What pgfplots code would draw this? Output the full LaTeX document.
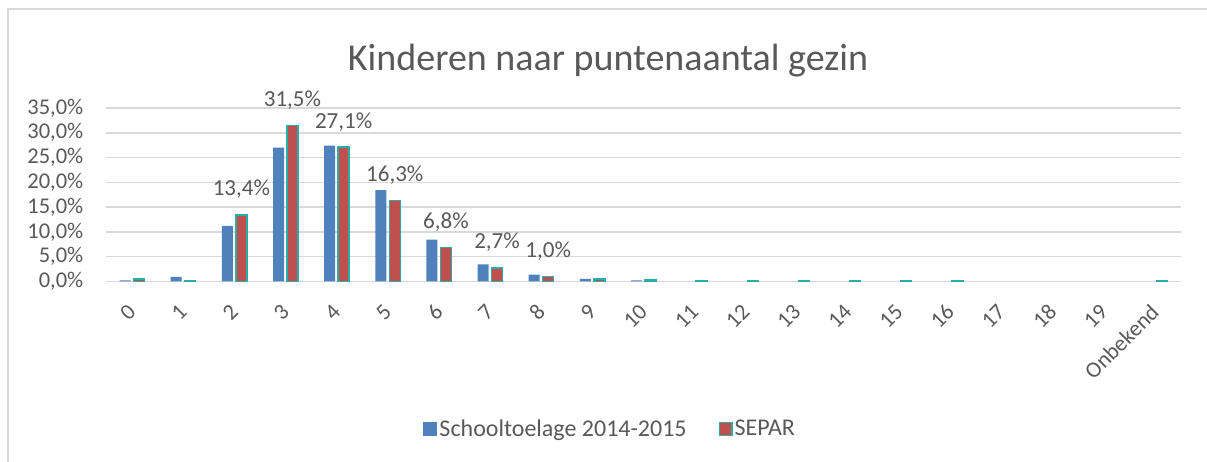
\documentclass[border=0pt]{standalone}
\usepackage{fontspec}
\setmainfont{Carlito}
\usepackage{pgfplots}
\pgfplotsset{compat=1.18}
\usepackage{pgfplotstable}
\usetikzlibrary{calc}
\definecolor{xlblue}{HTML}{4F81BD}
\definecolor{xlred}{HTML}{C0504D}
\definecolor{xlteal}{HTML}{2AACA8}
\definecolor{xltext}{HTML}{595959}
\definecolor{xlgrid}{HTML}{D9D9D9}

% Schooltoelage 2014-2015 (%)
\pgfplotstableread{
x y
0 0.2
1 0.9
2 11.2
3 27.0
4 27.4
5 18.4
6 8.4
7 3.4
8 1.35
9 0.5
10 0.2
}\schooltoelage

% SEPAR (%), with data labels
\pgfplotstableread{
x y lbl
0 0.5 {}
1 0.15 {}
2 13.4 {13,4\%}
3 31.5 {31,5\%}
4 27.1 {27,1\%}
5 16.3 {16,3\%}
6 6.8 {6,8\%}
7 2.7 {2,7\%}
8 1.0 {1,0\%}
9 0.45 {}
10 0.25 {}
11 0.1 {}
12 0.1 {}
13 0.1 {}
14 0.1 {}
15 0.1 {}
16 0.1 {}
20 0.1 {}
}\separ

\begin{document}
\begin{tikzpicture}[x=1pt,y=1pt]
\begin{axis}[
  scale only axis, width=1074pt, height=173.3pt,
  clip=false,
  ybar=3pt, bar width=11pt,
  xmin=-0.5, xmax=20.5, ymin=0, ymax=35,
  axis line style={draw=none},
  major tick length=0pt,
  ymajorgrids, grid style={xlgrid, line width=1.5pt},
  ytick={0,5,...,35},
  yticklabels={{0,0\%},{5,0\%},{10,0\%},{15,0\%},{20,0\%},{25,0\%},{30,0\%},{35,0\%}},
  yticklabel style={anchor=east, inner sep=0pt, xshift=-23pt, text=xltext, font=\fontsize{22.5}{27}\selectfont},
  xtick={0,...,20},
  xticklabels={0,1,2,3,4,5,6,7,8,9,10,11,12,13,14,15,16,17,18,19,Onbekend},
  xticklabel style={yshift=-27pt, rotate=45, anchor=east, inner sep=0pt, text=xltext, font=\fontsize{22.5}{27}\selectfont},
  legend style={at={(0.469,-0.852)}, anchor=center, draw=none, fill=none,
    font=\fontsize{24}{29}\selectfont, text=xltext,
    /tikz/every even column/.append style={column sep=30pt}},
  legend columns=2,
]
\addplot[fill=xlblue, draw=none,
  legend image code/.code={\fill[xlblue] (0pt,-7pt) rectangle (14pt,7pt);}]
  table[x=x,y=y] {\schooltoelage};
\addlegendentry{Schooltoelage 2014-2015}
\addplot[fill=xlred, draw=xlteal, line width=1.4pt,
  point meta=explicit symbolic,
  nodes near coords,
  every node near coord/.append style={anchor=base, yshift=19pt, inner sep=0pt, text=xltext, font=\fontsize{23}{28}\selectfont},
  legend image code/.code={\draw[fill=xlred, draw=xlteal, line width=1.4pt] (0.7pt,-6.3pt) rectangle (13.3pt,6.3pt);}]
  table[x=x,y=y,meta=lbl] {\separ};
\addlegendentry{SEPAR}
\coordinate (bl) at (rel axis cs:0,0);
\end{axis}
\pgfresetboundingbox
\begin{scope}[shift={($(bl)+(-106.5,-179.7)$)}]
  \useasboundingbox (0,0) rectangle (1207,461);
  \begin{scope}
    \clip (0,0) rectangle (1207,461);
    \draw[xlgrid, line width=1.2pt] (8,-10) rectangle (1220,452);
  \end{scope}
  \node[text=xltext, font=\fontsize{38}{46}\selectfont, anchor=base] at (608,390) {Kinderen naar puntenaantal gezin};
\end{scope}
\end{tikzpicture}
\end{document}
